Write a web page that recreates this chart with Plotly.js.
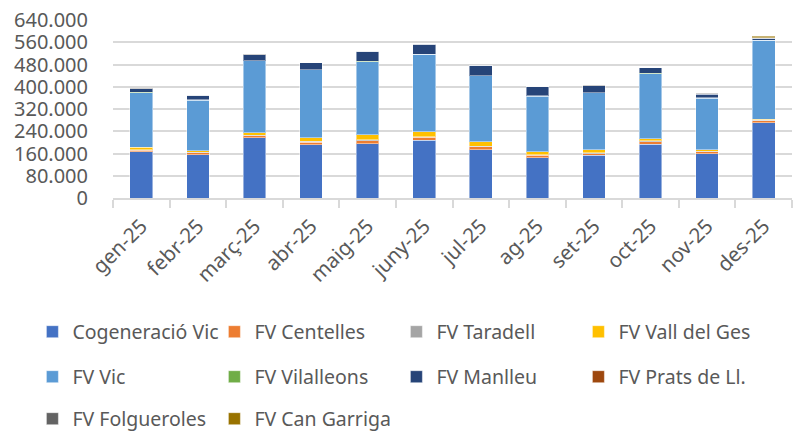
<!DOCTYPE html>
<html><head><meta charset="utf-8">
<script src="https://cdn.plot.ly/plotly-3.0.1.min.js"></script>
<style>html,body{margin:0;padding:0;background:#fff}#chart{width:799px;height:432px}</style>
</head><body><div id="chart"></div>
<script>
const months = ['gen-25','febr-25','març-25','abr-25','maig-25','juny-25','jul-25','ag-25','set-25','oct-25','nov-25','des-25'];
const seriesNames = ['Cogeneració Vic','FV Centelles','FV Taradell','FV Vall del Ges','FV Vic','FV Vilalleons','FV Manlleu','FV Prats de Ll.','FV Folgueroles','FV Can Garriga'];
const cogeneracioVic = [166000,156000,217000,192000,195000,208000,174000,144000,153000,194000,159000,270000];
const fvCentelles    = [6000,6000,7000,9000,10000,10000,10000,9000,6000,9000,8000,7000];
const fvTaradell     = [2000,2000,2000,3000,4000,2000,2000,2000,4000,2000,2000,2000];
const fvVallDelGes   = [8000,6000,9000,13000,18000,19000,17000,12000,11000,8000,5000,4000];
const fvVic          = [197000,182000,258000,244000,263000,277000,236000,199000,204000,234000,185000,284000];
const fvVilalleons   = [1000,1000,1000,1000,1000,1000,1000,1000,1000,1000,1000,1000];
const fvManlleu      = [13000,17000,21000,25000,37000,36000,37000,33000,25000,21000,13000,7000];
const fvPrats        = [0,0,0,0,0,0,0,0,0,0,1000,0];
const fvFolgueroles  = [1000,0,1000,0,0,1000,0,0,1000,0,3000,1000];
const fvCanGarriga   = [0,0,0,0,0,0,0,0,0,0,0,6000];
const values = [cogeneracioVic,fvCentelles,fvTaradell,fvVallDelGes,fvVic,fvVilalleons,fvManlleu,fvPrats,fvFolgueroles,fvCanGarriga];
const colors = ['#4472C4','#ED7D31','#A5A5A5','#FFC000','#5B9BD5','#70AD47','#264478','#9E480E','#636363','#997300'];
const legendOf = ['legend','legend','legend','legend','legend2','legend2','legend2','legend2','legend3','legend3'];

const traces = seriesNames.map((n,i)=>({
  type:'bar', name:n, x:months, y:values[i],
  marker:{color:colors[i], line:{color:'rgba(255,255,255,0.45)', width:1}},
  legend: legendOf[i], hoverinfo:'x+y+name'
}));
const txt = '#595959';
const fam = '"Noto Sans", "Open Sans", sans-serif';
const fnt = {family:fam, size:20.5, color:txt};
const yfnt = {family:fam, size:20, color:txt};
const lfnt = {family:fam, size:19.5, color:txt};
const legBase = {orientation:'h', font:lfnt, entrywidth:137, entrywidthmode:'pixels',
                 xanchor:'left', yanchor:'middle', x:-0.1187, bgcolor:'rgba(0,0,0,0)', itemwidth:30, traceorder:'normal'};
const layout = {
  width:799, height:432,
  margin:{l:113, r:7, t:20, b:234, autoexpand:false},
  barmode:'stack', bargap:0.6,
  paper_bgcolor:'#fff', plot_bgcolor:'#fff',
  font:fnt,
  xaxis:{type:'category', tickangle:-45, tickfont:fnt, showline:true, linecolor:'#d9d9d9', linewidth:2,
         ticks:'outside', tickson:'boundaries', ticklen:8, tickcolor:'#d9d9d9', tickwidth:2, showgrid:false,
         ticklabelstandoff:6, automargin:false},
  yaxis:{range:[0,640000], tickvals:[0,80000,160000,240000,320000,400000,480000,560000,640000],
         tickformat:',d', tickfont:yfnt, gridcolor:'#d9d9d9', gridwidth:2, zeroline:false, showline:false,
         ticklabelstandoff:24, automargin:false},
  separators:',.',
  legend:Object.assign({}, legBase, {y:(198-332)/178}),
  legend2:Object.assign({}, legBase, {y:(198-377)/178}),
  legend3:Object.assign({}, legBase, {y:(198-419)/178}),
  showlegend:true
};
Plotly.newPlot('chart', traces, layout, {displayModeBar:false, staticPlot:true});
</script></body></html>
